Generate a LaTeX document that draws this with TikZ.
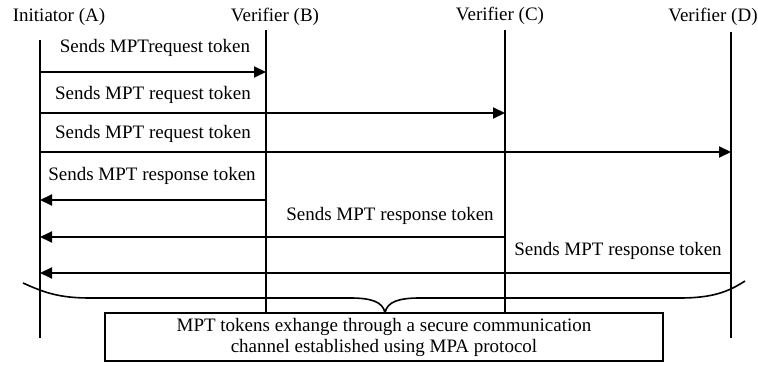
\documentclass[tikz,border=0pt]{standalone}
\usepackage{fontspec}
\setmainfont{Liberation Serif}
\usetikzlibrary{arrows.meta}
\begin{document}
\begin{tikzpicture}[x=1pt,y=-1pt,
  every node/.style={font=\fontsize{19}{21}\selectfont, inner sep=0pt},
  life/.style={line width=2pt},
  msg/.style={line width=2pt,-{Triangle[length=12pt,width=11pt]}},
  lbl/.style={anchor=center},
  bracestyle/.style={line width=1.6pt},
  notebox/.style={draw,line width=1.6pt,minimum width=558pt,minimum height=48pt,align=center,fill=white}]
\useasboundingbox (0,0) rectangle (758,366);
% headers
\node (hA) at (59,17) {Initiator (A)};
\node (hB) at (275,17) {Verifier (B)};
\node (hC) at (500,16) {Verifier (C)};
\node (hD) at (713,17) {Verifier (D)};
% lifeline ends
\coordinate (At) at (40,40);  \coordinate (Ab) at (40,338);
\coordinate (Bt) at (266,30); \coordinate (Bb) at (266,313);
\coordinate (Ct) at (505,30); \coordinate (Cb) at (505,313);
\coordinate (Dt) at (731,32); \coordinate (Db) at (731,338);
\draw[life] (At) -- (Ab);
\draw[life] (Bt) -- (Bb);
\draw[life] (Ct) -- (Cb);
\draw[life] (Dt) -- (Db);
% message points
\coordinate (A1) at (40,72);  \coordinate (B1) at (266,72);
\coordinate (A2) at (40,113); \coordinate (C2) at (505,113);
\coordinate (A3) at (40,152); \coordinate (D3) at (731,152);
\coordinate (A4) at (40,200); \coordinate (B4) at (266,200);
\coordinate (A5) at (40,237); \coordinate (C5) at (505,237);
\coordinate (A6) at (40,273); \coordinate (D6) at (731,273);
\draw[msg] (A1) -- (B1);
\draw[msg] (A2) -- (C2);
\draw[msg] (A3) -- (D3);
\draw[msg] (B4) -- (A4);
\draw[msg] (C5) -- (A5);
\draw[msg] (D6) -- (A6);
% labels
\node[lbl] (m1) at (155,48) {Sends MPTrequest token};
\node[lbl] (m2) at (153,95) {Sends MPT request token};
\node[lbl] (m3) at (153,134) {Sends MPT request token};
\node[lbl] (m4) at (152,176) {Sends MPT response token};
\node[lbl] (m5) at (390,216) {Sends MPT response token};
\node[lbl] (m6) at (618,251) {Sends MPT response token};
% brace
\coordinate (brL) at (23,283);
\coordinate (brM) at (385,313);
\coordinate (brR) at (745,281);
\draw[bracestyle] (brL) .. controls (45,293) and (60,298) .. (90,298)
  -- (350,298) .. controls (372,298) and (383,302) .. (brM)
  .. controls (387,302) and (398,298) .. (420,298)
  -- (680,298) .. controls (712,298) and (728,292) .. (brR);
% box
\node[notebox] (box) at (384,337) {MPT tokens exhange through a secure communication\\channel established using MPA protocol};
\end{tikzpicture}
\end{document}
